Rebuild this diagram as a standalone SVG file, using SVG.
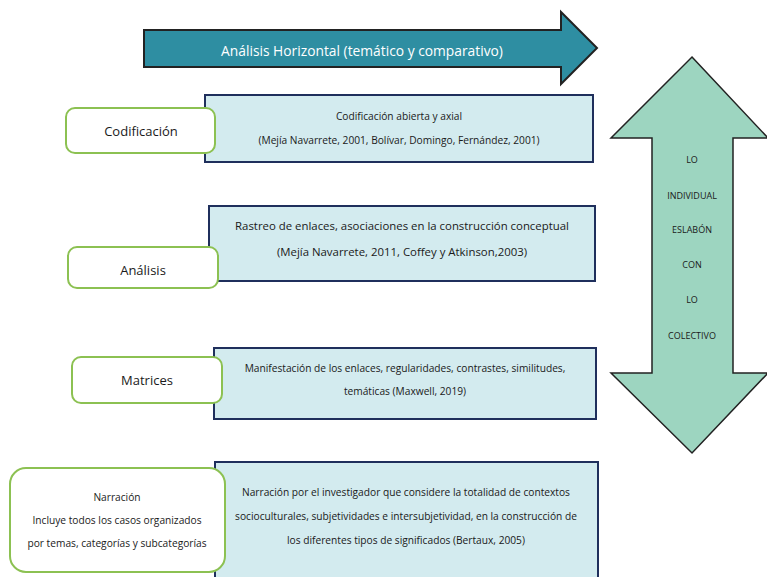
<svg xmlns="http://www.w3.org/2000/svg" width="767" height="577" viewBox="0 0 767 577">
<style>
.box{fill:#d3ebef;stroke:#1f2f5c;stroke-width:2}
.lbl{fill:#ffffff;stroke:#8cc152;stroke-width:2}
text{font-family:"Open Sans","Liberation Sans",sans-serif;fill:#1a1a1a;text-anchor:middle}
.s{font-size:10.2px}
.m{font-size:11.4px}
.l{font-size:13px}
.v{font-size:9px}
</style>
<rect width="767" height="577" fill="#ffffff"/>
<g id="arrow-horizontal">
<polygon points="144,30 561,30 561,12 597,48 561,84 561,67 144,67" fill="#2e8ea2" stroke="#222" stroke-width="2"/>
<text x="362" y="56" style="font-size:13.8px;fill:#ffffff">Análisis Horizontal (temático y comparativo)</text>
</g>
<g id="arrow-vertical">
<polygon points="692,57 768,138 733,138 733,373 768,373 692,453 611,373 652,373 652,138 611,138" fill="#9dd5c0" stroke="#222" stroke-width="1.5"/>
<text class="v" x="692" y="163">LO</text>
<text class="v" x="692" y="199">INDIVIDUAL</text>
<text class="v" x="692" y="233">ESLABÓN</text>
<text class="v" x="692" y="268">CON</text>
<text class="v" x="692" y="303">LO</text>
<text class="v" x="692" y="339">COLECTIVO</text>
</g>
<g id="box-codificacion">
<rect class="box" x="205" y="95" width="388" height="67"/>
<text class="s" x="399" y="120">Codificación abierta y axial</text>
<text class="s" x="399" y="144">(Mejía Navarrete, 2001, Bolívar, Domingo, Fernández, 2001)</text>
</g>
<g id="box-analisis">
<rect class="box" x="209" y="206" width="386" height="75"/>
<text class="m" x="402" y="230">Rastreo de enlaces, asociaciones en la construcción conceptual</text>
<text class="m" x="402" y="256">(Mejía Navarrete, 2011, Coffey y Atkinson,2003)</text>
</g>
<g id="box-matrices">
<rect class="box" x="214" y="348" width="382" height="71"/>
<text class="s" x="405" y="372">Manifestación de los enlaces, regularidades, contrastes, similitudes,</text>
<text class="s" x="405" y="395">temáticas (Maxwell, 2019)</text>
</g>
<g id="box-narracion">
<rect class="box" x="215" y="462" width="383" height="120"/>
<text class="s" x="406" y="496">Narración por el investigador que considere la totalidad de contextos</text>
<text class="s" x="406" y="520">socioculturales, subjetividades e intersubjetividad, en la construcción de</text>
<text class="s" x="406" y="544">los diferentes tipos de significados (Bertaux, 2005)</text>
</g>
<g id="label-codificacion">
<rect class="lbl" x="66" y="108" width="149" height="45" rx="9"/>
<text class="l" x="141" y="136">Codificación</text>
</g>
<g id="label-analisis">
<rect class="lbl" x="68" y="247" width="150" height="41" rx="9"/>
<text class="l" x="143" y="275">Análisis</text>
</g>
<g id="label-matrices">
<rect class="lbl" x="72" y="357" width="150" height="46" rx="9"/>
<text class="l" x="147" y="385">Matrices</text>
</g>
<g id="label-narracion">
<rect class="lbl" x="10" y="468" width="215" height="104" rx="16"/>
<text class="s" x="117" y="501">Narración</text>
<text class="s" x="117" y="524">Incluye todos los casos organizados</text>
<text class="s" x="117" y="547">por temas, categorías y subcategorías</text>
</g>
<g id="connectors"></g>
</svg>
